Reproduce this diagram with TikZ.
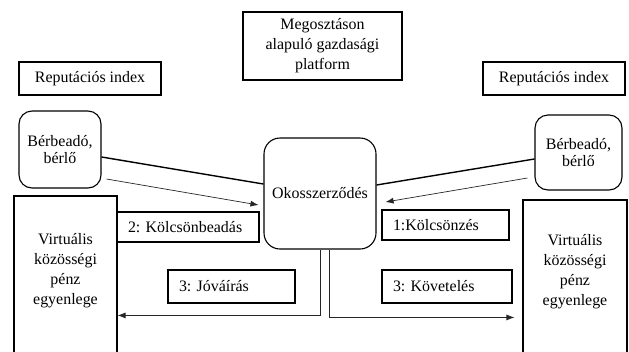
\documentclass[tikz,border=0pt]{standalone}
\usepackage{fontspec}
\setmainfont{Liberation Serif}
\frenchspacing
\usetikzlibrary{arrows.meta,calc}
\begin{document}
\begin{tikzpicture}[x=1bp,y=-1bp,
    every node/.style={font=\fontsize{16}{20}\selectfont},
    box/.style={draw, line width=1.1bp, inner sep=0pt, align=center},
    roundbox/.style={box, rounded corners=13bp},
    tagbox/.style={box, align=left, inner xsep=11bp},
    link/.style={line width=1.4bp},
    flow/.style={line width=0.7bp, draw=black!85, -{Latex[length=8bp,width=6bp]}}]
    \useasboundingbox (0,0) rectangle (629,351);
    \clip (0,0) rectangle (629,351);

    % platform and the two reputation indices
    \node[box, minimum width=159bp, minimum height=68bp] (platform) at (322.5,46)
      {Megosztáson\\alapuló gazdasági\\platform};
    \node[box, minimum width=142bp, minimum height=33bp] (repL) at (90,78.5) {Reputációs index};
    \node[box, minimum width=142bp, minimum height=33bp] (repR) at (554,78.5) {Reputációs index};

    % parties and the smart contract
    \node[roundbox, minimum width=82bp, minimum height=77bp,
      font=\fontsize{16}{17}\selectfont] (renterL) at (60,149.5) {Bérbeadó,\\bérlő};
    \node[roundbox, minimum width=87bp, minimum height=75bp,
      font=\fontsize{16}{18}\selectfont] (renterR) at (578.5,152.5) {Bérbeadó,\\bérlő};
    \node[roundbox, rounded corners=16bp, minimum width=112bp, minimum height=111bp]
      (smart) at (320,193.5) {Okosszerződés};

    % community money balances (open at the bottom)
    \node[box, minimum width=103bp, minimum height=180bp] (walletL) at (65.5,286) {};
    \node[align=center] (walletLtext) at ($(walletL.north)+(0,75)$)
      {Virtuális\\közösségi\\pénz\\egyenlege};
    \node[box, minimum width=104bp, minimum height=180bp] (walletR) at (575,290) {};
    \node[align=center] (walletRtext) at ($(walletR.north)+(0,72)$)
      {Virtuális\\közösségi\\pénz\\egyenlege};

    % step labels
    \node[tagbox, text width=120bp, minimum height=30bp] (lend) at (188,227) {2: Kölcsönbeadás};
    \node[tagbox, text width=105bp, minimum height=30bp] (borrow) at (445.5,225) {1:Kölcsönzés};
    \node[tagbox, text width=105bp, minimum height=33bp] (credit) at (231.5,286.5) {3: Jóváírás};
    \node[tagbox, text width=108bp, minimum height=33bp] (debit) at (447,286.5) {3: Követelés};

    % connectors
    \draw[link] ($(renterL.east)+(0,7.5)$) -- ($(smart.west)+(0,-9.5)$);
    \draw[flow] ($(renterL.east)+(5,29.5)$) -- ($(smart.west)+(-5,11.5)$);
    \draw[link] ($(smart.east)+(0,-8.5)$) -- ($(renterR.west)+(0,6.5)$);
    \draw[flow] ($(renterR.west)+(-7,25.5)$) -- ($(smart.east)+(9,8.5)$);

    \draw[flow] (smart.south) |- ($(walletL.north east)+(0,120)$);
    \draw[flow] ($(smart.south)+(9,0)$) |- ($(walletR.north west)+(-8,118)$);
\end{tikzpicture}
\end{document}
